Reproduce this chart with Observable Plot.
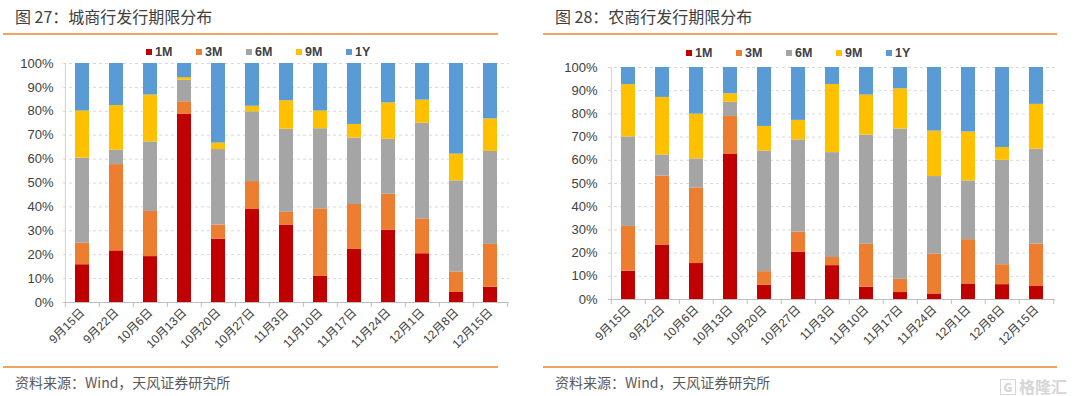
<!DOCTYPE html>
<html><head><meta charset="utf-8">
<script src="https://cdn.jsdelivr.net/npm/d3@7"></script>
<script src="https://cdn.jsdelivr.net/npm/@observablehq/plot@0.6"></script>
<style>
body{margin:0;width:1080px;height:396px;background:#fff;overflow:hidden;font-family:"Liberation Sans","Noto Sans CJK SC",sans-serif;}
.panel{position:absolute;top:0;width:540px;height:396px;}
.title{position:absolute;left:15px;top:5px;font-size:16px;line-height:22px;color:#404040;font-family:"Noto Sans CJK SC",sans-serif;white-space:nowrap;}
.hline{position:absolute;left:3px;height:2px;background:#F0A462;}
.legend{position:absolute;top:45px;height:14px;}
.legend span.item{position:absolute;top:0;white-space:nowrap;font-size:12.5px;font-weight:bold;color:#404040;line-height:14px;font-family:"Liberation Sans",sans-serif;}
.legend span.sw{display:inline-block;width:6px;height:6px;margin-right:3px;vertical-align:1px;}
.chart{position:absolute;top:55px;left:0;}
.source{position:absolute;left:15px;top:372px;font-size:14px;line-height:20px;color:#595959;font-family:"Noto Sans CJK SC",sans-serif;white-space:nowrap;}
.mark{position:absolute;left:460px;top:377px;font-size:16px;line-height:19px;color:#d6d6d6;font-family:"Noto Sans CJK SC",sans-serif;font-weight:bold;white-space:nowrap;}
.mark b{display:inline-block;border:1.5px solid #d6d6d6;font-size:12px;line-height:14px;width:14px;text-align:center;margin-right:3px;vertical-align:1px;color:#d6d6d6;}
</style>
</head><body>
<div class="panel" id="p1" style="left:0"></div>
<div class="panel" id="p2" style="left:540px"></div>
<script>
const dates = ["9月15日","9月22日","10月6日","10月13日","10月20日","10月27日","11月3日","11月10日","11月17日","11月24日","12月1日","12月8日","12月15日"];
const terms = ["1M","3M","6M","9M","1Y"];
const colors = ["#C00000","#ED7D31","#A5A5A5","#FFC000","#5B9BD5"];
const yTicks = [0,0.1,0.2,0.3,0.4,0.5,0.6,0.7,0.8,0.9,1];

// 城商行 (percent)
const city1M = [15.8,21.6,19.2,78.7,26.5,38.9,32.4,10.9,22.2,30.3,20.4,4.2,6.4];
const city3M = [9.0,36.1,18.9,5.3,5.9,11.7,5.3,28.3,18.8,15.0,14.6,8.6,17.9];
const city6M = [35.6,6.0,29.1,9.0,31.6,29.2,34.8,33.5,27.8,23.0,40.0,38.1,38.9];
const city9M = [19.7,18.7,19.6,1.1,2.7,2.3,11.9,7.4,5.7,15.2,9.7,11.2,13.6];
const city1Y = [19.9,17.6,13.2,5.9,33.3,17.9,15.6,19.9,25.5,16.5,15.3,37.9,23.2];

// 农商行 (percent)
const rural1M = [12.2,23.5,15.5,62.5,6.2,20.3,14.6,5.3,3.0,2.4,6.7,6.4,5.6];
const rural3M = [19.3,29.7,32.6,16.4,5.8,8.8,3.5,18.5,5.7,17.2,19.1,8.6,18.3];
const rural6M = [38.6,9.1,12.5,6.1,52.0,39.7,45.2,47.1,64.8,33.4,25.3,45.0,40.9];
const rural9M = [22.5,24.8,19.3,3.7,10.6,8.4,29.4,17.2,17.3,19.6,21.1,5.5,19.3];
const rural1Y = [7.4,12.9,20.1,11.3,25.4,22.8,7.3,11.9,9.2,27.4,27.8,34.5,15.9];

const titles = ["图 27：城商行发行期限分布","图 28：农商行发行期限分布"];
const sourceText = "资料来源：Wind，天风证券研究所";

function chart(series, o) {
  const data = [];
  terms.forEach((t, k) => series[k].forEach((v, i) => data.push({date: dates[i], term: t, value: v / 100})));
  const W = 540;
  const step = (W - o.ml - o.mr) / dates.length;
  return Plot.plot({
    width: W, height: o.height,
    marginTop: o.mt, marginBottom: o.height - o.mt - o.ph, marginLeft: o.ml, marginRight: o.mr,
    x: {domain: dates, paddingInner: 0.6, paddingOuter: 0.3},
    y: {domain: [0, 1]},
    color: {domain: terms, range: colors},
    style: {fontFamily: '"Liberation Sans","Noto Sans CJK SC",sans-serif', color: "#404040", background: "transparent", overflow: "visible"},
    marks: [
      Plot.ruleY(yTicks.slice(1), {stroke: "#d9d9d9", strokeDasharray: "3,3"}),
      Plot.barY(data, {x: "date", y: "value", fill: "term", order: terms}),
      Plot.ruleY(yTicks.slice(0, 1), {stroke: "#bfbfbf"}),
      Plot.ruleX(dates.slice(0, 1), {x: d => d, dx: -step / 2, stroke: "#d0d0d0"}),
      Plot.ruleX(dates, {x: d => d, dx: -step / 2, y1: 0, y2: 0, insetBottom: -5, stroke: "#bfbfbf"}),
      Plot.ruleX(dates.slice(-1), {x: d => d, dx: step / 2, y1: 0, y2: 0, insetBottom: -5, stroke: "#bfbfbf"}),
      Plot.axisY(yTicks, {tickSize: 0, tickPadding: o.tp, tickFormat: d3.format(".0%"), fontSize: 13, label: null}),
      Plot.axisX({tickSize: 0, tickRotate: -45, tickPadding: 8, fontSize: 12, label: null})
    ]
  });
}

function panel(el, idx, series, o, lineW, legendTop) {
  const t = document.createElement("div"); t.className = "title"; t.textContent = titles[idx]; el.appendChild(t);
  const l1 = document.createElement("div"); l1.className = "hline"; l1.style.top = "33px"; l1.style.width = lineW + "px"; el.appendChild(l1);
  const lg = document.createElement("div"); lg.className = "legend"; lg.style.top = legendTop + "px";
  terms.forEach((t, i) => {
    const it = document.createElement("span"); it.className = "item"; it.style.left = (146 + i * 50) + "px";
    const sw = document.createElement("span"); sw.className = "sw"; sw.style.background = colors[i];
    it.appendChild(sw); it.appendChild(document.createTextNode(t)); lg.appendChild(it);
  });
  el.appendChild(lg);
  const c = document.createElement("div"); c.className = "chart"; c.appendChild(chart(series, o)); el.appendChild(c);
  const l2 = document.createElement("div"); l2.className = "hline"; l2.style.top = "366px"; l2.style.width = lineW + "px"; el.appendChild(l2);
  const s = document.createElement("div"); s.className = "source"; s.textContent = sourceText; el.appendChild(s);
}

panel(document.getElementById("p1"), 0, [city1M, city3M, city6M, city9M, city1Y],
  {height: 297, mt: 8, ph: 239, ml: 63, mr: 31, tp: 10}, 495, 45);
panel(document.getElementById("p2"), 1, [rural1M, rural3M, rural6M, rural9M, rural1Y],
  {height: 294, mt: 12, ph: 232, ml: 68, mr: 25, tp: 11}, 514, 46);

const m = document.createElement("div"); m.className = "mark";
m.innerHTML = "<b>G</b>格隆汇";
document.getElementById("p2").appendChild(m);
</script>
</body></html>
